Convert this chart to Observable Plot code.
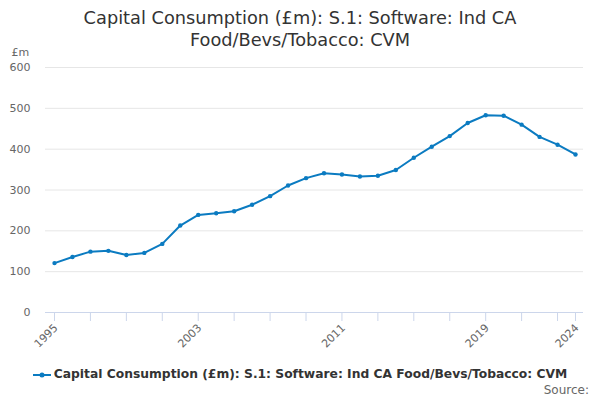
<!DOCTYPE html>
<html>
<head>
<meta charset="utf-8">
<script src="https://cdn.jsdelivr.net/npm/d3@7"></script>
<script src="https://cdn.jsdelivr.net/npm/@observablehq/plot@0.6"></script>
<style>
  body { margin: 0; background: #fff; font-family: "DejaVu Sans", sans-serif; }
  #wrap { position: relative; width: 600px; height: 400px; overflow: hidden; }
  #title { position: absolute; top: 7px; left: 0; width: 600px; text-align: center;
           font-size: 17.75px; line-height: 22px; color: #333; }
  #chart { position: absolute; top: 40px; left: 0; }
  #legend { position: absolute; top: 367px; left: 0; width: 600px; text-align: center;
            font-size: 12.3px; font-weight: bold; color: #333; }
  #legend svg { vertical-align: middle; margin-right: 3px; }
  #source { position: absolute; top: 383px; right: 11px; font-size: 12px; color: #666; }
</style>
</head>
<body>
<div id="wrap">
  <div id="title">Capital Consumption (£m): S.1: Software: Ind CA<br>Food/Bevs/Tobacco: CVM</div>
  <div id="chart"></div>
  <div id="legend"><svg width="18" height="10"><line x1="0" y1="5" x2="18" y2="5" stroke="#0b7bc1" stroke-width="2"/><circle cx="9" cy="5" r="2.5" fill="#0b7bc1"/></svg>Capital Consumption (£m): S.1: Software: Ind CA Food/Bevs/Tobacco: CVM</div>
  <div id="source">Source:</div>
</div>
<script>
const years = d3.range(1995, 2025);
const values = [121, 136, 149, 151, 141, 146, 168, 213, 239, 243, 248, 264, 285, 311, 329, 341,
                338, 333, 335, 349, 379, 406, 432, 464, 483, 482, 460, 430, 411, 387];
const yTicks = [0, 100, 200, 300, 400, 500, 600];
const xTickMarks = [1995, 1997, 1999, 2001, 2003, 2005, 2007, 2009, 2011, 2013, 2015, 2017, 2019, 2021, 2023, 2024];
const xTickLabels = [1995, 2003, 2011, 2019, 2024];

const data = years.map((y, i) => ({year: y, value: values[i]}));
const color = "#0b7bc1";

const chart = Plot.plot({
  width: 600,
  height: 316,
  marginTop: 27,
  marginBottom: 44,
  marginLeft: 45,
  marginRight: 17,
  style: {fontFamily: "DejaVu Sans, sans-serif", fontSize: "11px", color: "#666"},
  x: {domain: [1995, 2024], insetLeft: 9, insetRight: 8},
  y: {domain: [0, 600]},
  marks: [
    Plot.gridY(yTicks, {stroke: "#e6e6e6", strokeOpacity: 1}),
    Plot.axisY(yTicks, {tickSize: 0, tickPadding: 15, label: null, fill: "#666", fontSize: 11}),
    Plot.text(["£m"], {frameAnchor: "top-left", dx: -34, dy: -19, fill: "#666", fontSize: 11, textAnchor: "start"}),
    Plot.ruleY([0], {stroke: "#ccd6eb"}),
    Plot.axisX(xTickMarks, {tickSize: 9, stroke: "#ccd6eb", strokeOpacity: 1, text: null, label: null}),
    Plot.text(xTickLabels, {x: d => d, frameAnchor: "bottom", text: d => String(d), rotate: -45,
                            textAnchor: "end", dx: 4, dy: 16, fill: "#666", fontSize: 11}),
    Plot.line(data, {x: "year", y: "value", stroke: color, strokeWidth: 2}),
    Plot.dot(data, {x: "year", y: "value", fill: color, r: 2.2})
  ]
});
document.getElementById("chart").appendChild(chart);
</script>
</body>
</html>
